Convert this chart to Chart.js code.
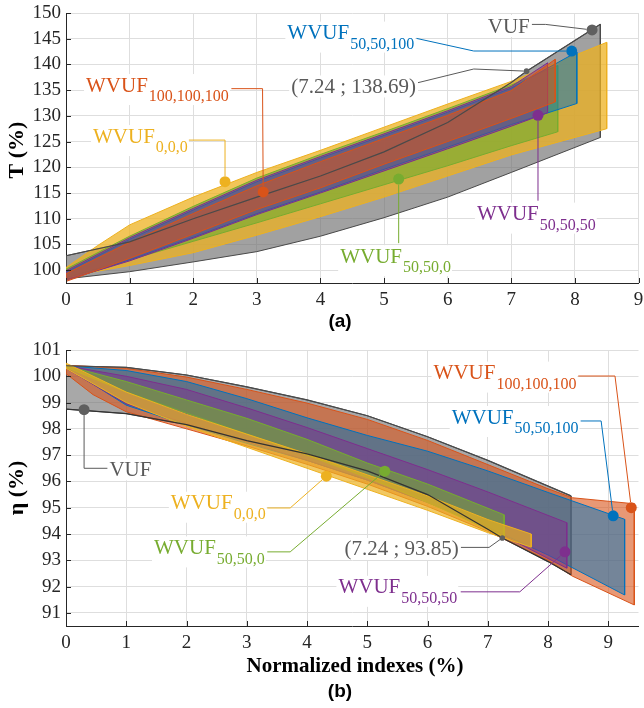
<!DOCTYPE html>
<html><head><meta charset="utf-8">
<script src="https://cdn.jsdelivr.net/npm/chart.js@4.4.1/dist/chart.umd.min.js"></script>
<style>
html,body{margin:0;padding:0;background:#fff;width:644px;height:708px;overflow:hidden}
canvas{position:absolute;left:0}
#ca{top:0}#cb{top:330px}
</style></head><body>
<canvas id="ca" width="644" height="340"></canvas>
<canvas id="cb" width="644" height="378"></canvas>
<script>
// ---------- Panel (a): T (%) vs normalized index ----------
const aXTicks = [0,1,2,3,4,5,6,7,8,9];
const aYTicks = [100,105,110,115,120,125,130,135,140,145,150];

const aVUF_hiX = [0,1,2,3,4,5,6,7,7.24,8.4];
const aVUF_hiY = [102.8,105.5,110.0,114.2,118.3,123.0,128.7,136.5,138.69,147.8];
const aVUF_loX = [0,1,2,3,4,5,6,7,8.4];
const aVUF_loY = [98.3,99.7,101.6,103.6,106.6,110.2,114.2,119.0,125.8];

const aY000_x  = [0,0.5,1,2,3,4,5,6,7,8.5];
const aY000_hi = [100.5,104.8,108.8,114.2,119.0,123.3,127.8,132.3,136.7,144.3];
const aY000_lo = [98.6,99.8,100.9,103.4,106.8,110.4,114.2,118.3,122.4,127.5];

const aG5050_x  = [0,1,2,3,4,5,6,7,7.73];
const aG5050_hi = [100.2,106.6,112.4,117.9,122.5,126.9,131.4,136.0,139.8];
const aG5050_lo = [98.5,102.0,105.6,109.2,112.9,116.6,120.3,124.2,126.9];

const aB100_x  = [0,1,2,3,4,5,6,7,8.03];
const aB100_hi = [99.6,106.0,111.7,117.2,121.8,126.2,130.7,135.4,142.4];
const aB100_lo = [98.0,102.0,106.4,111.0,115.2,119.6,123.9,128.3,132.4];

const aP050_x  = [0,1,2,3,4,5,6,7,7.57];
const aP050_hi = [99.9,106.3,112.0,117.5,122.1,126.5,131.0,135.7,140.3];
const aP050_lo = [98.1,101.8,106.2,110.8,115.0,119.3,123.6,128.0,130.6];

const aR100_x  = [0,1,2,3,4,5,6,7,7.69];
const aR100_hi = [99.3,105.4,111.0,116.4,121.1,125.6,130.1,134.9,141.0];
const aR100_lo = [97.8,102.3,107.0,111.8,116.0,120.6,125.0,129.5,132.7];

// markers: [x, y]
const aMarkVUF = [8.27,146.7];
const aMarkB100 = [7.95,142.6];
const aMarkR100 = [3.1,115.2];
const aMarkY000 = [2.5,117.2];
const aMarkG5050 = [5.23,117.7];
const aMarkP050 = [7.42,130.1];
const aPoint = [7.24,138.69];

// ---------- Panel (b): efficiency vs normalized index ----------
const bXTicks = [0,1,2,3,4,5,6,7,8,9];
const bYTicks = [91,92,93,94,95,96,97,98,99,100,101];

const bVUF_hiX = [0,1,2,3,4,5,6,7,8.38];
const bVUF_hiY = [100.4,100.34,100.05,99.6,99.1,98.5,97.7,96.8,95.45];
const bVUF_loX = [0,1,2,3,4,5,6,7,7.24,8,8.38];
const bVUF_loY = [98.75,98.58,98.16,97.55,97.05,96.4,95.5,94.18,93.85,92.95,92.45];

const bR100_hiX = [0,1,2,3,4,5,6,7,8,8.4,9.43];
const bR100_hiY = [100.42,100.3,99.97,99.5,98.98,98.36,97.56,96.64,95.72,95.38,95.15];
const bR100_loX = [0,0.45,1,2,3,4,5,6,7,8,8.4,9.43];
const bR100_loY = [100.1,99.3,98.65,98.0,97.35,96.65,95.9,95.05,94.1,93.0,92.4,91.3];

const bB100_x  = [0,1,2,3,4,5,6,7,8,9.27];
const bB100_hi = [100.4,100.22,99.8,99.15,98.42,97.75,97.15,96.4,95.58,94.56];
const bB100_lo = [100.35,98.9,98.15,97.45,96.8,96.05,95.2,94.25,93.2,91.68];

const bP050_x  = [0,1,2,3,4,5,6,7,8.31];
const bP050_hi = [100.4,100.0,99.5,98.8,98.05,97.25,96.45,95.6,94.43];
const bP050_lo = [100.3,98.95,98.2,97.5,96.8,96.05,95.2,94.25,92.7];

const bG5050_x  = [0,1,2,3,4,5,6,7.27];
const bG5050_hi = [100.4,99.8,99.1,98.4,97.6,96.7,95.9,94.73];
const bG5050_lo = [100.35,99.4,98.6,97.8,97.0,96.15,95.2,93.9];

const bY000_x  = [0,1,2,3,4,5,6,7,7.72];
const bY000_hi = [100.5,99.4,98.55,97.8,97.05,96.25,95.45,94.55,94.0];
const bY000_lo = [100.3,99.0,98.1,97.3,96.5,95.7,94.9,94.05,93.5];

const bMarkVUF = [0.3,98.73];
const bMarkR100 = [9.38,95.0];
const bMarkB100 = [9.08,94.69];
const bMarkY000 = [4.32,96.2];
const bMarkG5050 = [5.29,96.39];
const bMarkP050 = [8.28,93.32];
const bPoint = [7.24,93.85];

// ---------- styling ----------
const COL = {blue:'#0072BD', red:'#D95319', yellow:'#EDB120', purple:'#7E2F8E', green:'#77AC30', gray:'#5a5a5a'};
const GRID = '#dedede';
const AXIS = '#262626';
const TICKFONT = {family:'"Liberation Serif", "DejaVu Serif", serif', size:19};
function rgba(hex,a){const n=parseInt(hex.slice(1),16);return `rgba(${n>>16&255},${n>>8&255},${n&255},${a})`;}
function pts(xs,ys){return xs.map((v,i)=>({x:v,y:ys[i]}));}
function poly(xh,yh,xl,yl){const up=pts(xh,yh),lo=pts(xl,yl).reverse();return up.concat(lo,[up[0]]);}

function bandDS(xh,yh,xl,yl,color,alpha,order,border){
  return {data:poly(xh,yh,xl,yl),showLine:true,fill:'shape',pointRadius:0,borderWidth:1,
    borderColor:border||color,backgroundColor:rgba(color,alpha),order:order};
}
function lineDS(xs,ys,color,order,w){
  return {data:pts(xs,ys),showLine:true,fill:false,pointRadius:0,borderWidth:w||1.2,borderColor:color,order:order};
}
function markDS(p,color,order,r){
  return {data:[{x:p[0],y:p[1]}],showLine:false,pointRadius:r||5.5,pointBackgroundColor:color,pointBorderWidth:0,order:order};
}

const MAINF = '21px "Liberation Serif", serif';
const SUBF = '16px "Liberation Serif", serif';
const MR = 5.5;

function labelPlugin(labels){
  return {id:'labels',afterDatasetsDraw(chart){
    const {ctx,scales:{x,y}} = chart;
    ctx.save();
    ctx.strokeStyle = AXIS; ctx.lineWidth = 1;
    const ca = chart.chartArea;
    ctx.beginPath();
    x.ticks.forEach(t=>{const px=Math.round(x.getPixelForValue(t.value))+0.5;ctx.moveTo(px,ca.bottom);ctx.lineTo(px,ca.bottom-5);});
    y.ticks.forEach(t=>{const py=Math.round(y.getPixelForValue(t.value))+0.5;ctx.moveTo(ca.left,py);ctx.lineTo(ca.left+5,py);});
    ctx.stroke();
    for(const L of labels){
      const P = L.leader.map(p=>[x.getPixelForValue(p[0]),y.getPixelForValue(p[1])]);
      const mi = L.markEnd ? P.length-1 : 0;
      const other = L.markEnd ? P[P.length-2] : P[1];
      const m = P[mi]; const dx=other[0]-m[0], dy=other[1]-m[1], d=Math.hypot(dx,dy)||1;
      const r = L.r||MR;
      P[mi] = [m[0]+dx/d*r, m[1]+dy/d*r];
      ctx.strokeStyle = L.color; ctx.lineWidth = 1;
      ctx.beginPath();
      P.forEach((p,i)=>{i?ctx.lineTo(p[0],p[1]):ctx.moveTo(p[0],p[1]);});
      ctx.stroke();
    }
    for(const L of labels){
      const px=x.getPixelForValue(L.at[0]),py=y.getPixelForValue(L.at[1]);
      ctx.font=MAINF; const w=ctx.measureText(L.main).width;
      ctx.font=SUBF; const sw=L.sub?ctx.measureText(L.sub).width:0;
      ctx.fillStyle='#fff'; ctx.fillRect(px-2,py-11,w+sw+4,L.sub?31:22);
      ctx.fillStyle=L.color; ctx.textBaseline='middle'; ctx.textAlign='left';
      ctx.font=MAINF; ctx.fillText(L.main,px,py+1);
      if(L.sub){ctx.font=SUBF; ctx.fillText(L.sub,px+w+1,py+12);}
    }
    ctx.restore();
  }};
}
function titlePlugin(ytitle,ycy,xtitle,xty,panel,pty){
  return {id:'titles',afterDraw(chart){
    const ctx=chart.ctx; ctx.save();
    ctx.fillStyle='#000'; ctx.textAlign='center'; ctx.textBaseline='middle';
    ctx.font='bold 22px "Liberation Serif", serif';
    ctx.save(); ctx.translate(17,ycy); ctx.rotate(-Math.PI/2); ctx.fillText(ytitle,0,0); ctx.restore();
    ctx.font='bold 21px "Liberation Serif", serif';
    if(xtitle){ctx.fillText(xtitle,355,xty);}
    ctx.font='bold 19px "Liberation Sans", Arial, sans-serif';
    ctx.fillText(panel,340,pty);
    ctx.restore();
  }};
}
function scalesCfg(xmin,xmax,ymin,ymax,xt,yt){
  const common = {type:'linear',grid:{color:GRID,drawTicks:false,lineWidth:1},border:{color:AXIS,width:1},
    ticks:{font:TICKFONT,color:AXIS,autoSkip:false,maxRotation:0,padding:6}};
  return {
    x:{...common,min:xmin,max:xmax,afterBuildTicks:s=>{s.ticks=xt.map(v=>({value:v}));},
       afterFit:s=>{s.height=30;s.paddingLeft=0;s.paddingRight=0;}},
    y:{...common,min:ymin,max:ymax,afterBuildTicks:s=>{s.ticks=yt.map(v=>({value:v}));},
       afterFit:s=>{s.width=66;s.paddingTop=0;s.paddingBottom=0;},
       ticks:{...common.ticks,padding:5}}
  };
}

// ---------- chart (a) ----------
const aLabels = [
  {main:'VUF',sub:'',color:COL.gray,at:[6.63,147.47],leader:[[7.32,147.78],[7.54,147.78],aMarkVUF],markEnd:true},
  {main:'WVUF',sub:'50,50,100',color:COL.blue,at:[3.48,146.19],leader:[[5.51,145.06],[6.41,142.61],aMarkB100],markEnd:true},
  {main:'(7.24 ; 138.69)',sub:'',color:COL.gray,at:[3.54,135.72],leader:[[5.51,136.38],[6.41,139.11],aPoint],markEnd:true,r:2.8},
  {main:'WVUF',sub:'100,100,100',color:COL.red,at:[0.315,135.99],leader:[[2.6,135.29],[3.09,135.29],aMarkR100],markEnd:true},
  {main:'WVUF',sub:'0,0,0',color:COL.yellow,at:[0.425,126.07],leader:[[1.92,125.29],[2.5,125.29],aMarkY000],markEnd:true},
  {main:'WVUF',sub:'50,50,0',color:COL.green,at:[4.31,102.72],leader:[aMarkG5050,[5.23,105.25]],markEnd:false},
  {main:'WVUF',sub:'50,50,50',color:COL.purple,at:[6.46,110.99],leader:[aMarkP050,[7.42,113.5]],markEnd:false}
];
new Chart(document.getElementById('ca'),{
  type:'scatter',
  data:{datasets:[
    markDS(aMarkVUF,'#5f5f5f',0),markDS(aMarkB100,COL.blue,0),markDS(aMarkR100,COL.red,0),
    markDS(aMarkY000,COL.yellow,0),markDS(aMarkG5050,COL.green,0),markDS(aMarkP050,COL.purple,0),
    markDS(aPoint,'#5f5f5f',0,2.8),
    lineDS(aVUF_hiX,aVUF_hiY,'#4a4a4a',1,1.2),
    bandDS(aR100_x,aR100_hi,aR100_x,aR100_lo,COL.red,0.55,2),
    bandDS(aP050_x,aP050_hi,aP050_x,aP050_lo,COL.purple,0.5,3),
    bandDS(aB100_x,aB100_hi,aB100_x,aB100_lo,COL.blue,0.5,4),
    bandDS(aG5050_x,aG5050_hi,aG5050_x,aG5050_lo,COL.green,0.65,5),
    bandDS(aY000_x,aY000_hi,aY000_x,aY000_lo,COL.yellow,0.75,6),
    bandDS(aVUF_hiX,aVUF_hiY,aVUF_loX,aVUF_loY,'#6e6e6e',0.65,7,'#4a4a4a')
  ]},
  options:{responsive:false,animation:false,devicePixelRatio:1,
    layout:{padding:{left:0,right:4,top:13,bottom:27}},
    plugins:{legend:{display:false},tooltip:{enabled:false}},
    scales:scalesCfg(0,9,97.5,150,aXTicks,aYTicks)},
  plugins:[labelPlugin(aLabels),titlePlugin('T (%)',150,null,0,'(a)',322)]
});

// ---------- chart (b) ----------
const bLabels = [
  {main:'WVUF',sub:'100,100,100',color:COL.red,at:[6.1,100.14],leader:[[8.5,100.01],[9.11,100.01],bMarkR100],markEnd:true},
  {main:'WVUF',sub:'50,50,100',color:COL.blue,at:[6.4,98.45],leader:[[8.54,98.3],[8.88,98.3],bMarkB100],markEnd:true},
  {main:'VUF',sub:'',color:COL.gray,at:[0.72,96.46],leader:[bMarkVUF,[0.3,96.5],[0.71,96.5]],markEnd:false},
  {main:'WVUF',sub:'0,0,0',color:COL.yellow,at:[1.74,95.19],leader:[[3.34,94.99],[3.72,94.99],bMarkY000],markEnd:true},
  {main:'WVUF',sub:'50,50,0',color:COL.green,at:[1.46,93.49],leader:[[3.34,93.32],[3.72,93.32],bMarkG5050],markEnd:true},
  {main:'(7.24 ; 93.85)',sub:'',color:COL.gray,at:[4.62,93.43],leader:[[6.55,93.49],[7.02,93.49],bPoint],markEnd:true,r:2.8},
  {main:'WVUF',sub:'50,50,50',color:COL.purple,at:[4.52,91.99],leader:[[6.55,91.8],[7.53,91.8],bMarkP050],markEnd:true}
];
new Chart(document.getElementById('cb'),{
  type:'scatter',
  data:{datasets:[
    markDS(bMarkVUF,'#5f5f5f',0),markDS(bMarkR100,COL.red,0),markDS(bMarkB100,COL.blue,0),
    markDS(bMarkY000,COL.yellow,0),markDS(bMarkG5050,COL.green,0),markDS(bMarkP050,COL.purple,0),
    markDS(bPoint,'#5f5f5f',0,2.8),
    lineDS(bVUF_hiX,bVUF_hiY,'#4a4a4a',1,1.2),
    lineDS(bVUF_loX,bVUF_loY,'#333333',1,1.2),
    bandDS(bY000_x,bY000_hi,bY000_x,bY000_lo,COL.yellow,0.7,2),
    bandDS(bG5050_x,bG5050_hi,bG5050_x,bG5050_lo,COL.green,0.6,3),
    bandDS(bP050_x,bP050_hi,bP050_x,bP050_lo,COL.purple,0.5,4),
    bandDS(bB100_x,bB100_hi,bB100_x,bB100_lo,COL.blue,0.5,5),
    bandDS(bR100_hiX,bR100_hiY,bR100_loX,bR100_loY,COL.red,0.6,6),
    bandDS(bVUF_hiX,bVUF_hiY,bVUF_loX,bVUF_loY,'#6e6e6e',0.6,7,'#4a4a4a')
  ]},
  options:{responsive:false,animation:false,devicePixelRatio:1,
    layout:{padding:{left:0,right:-2,top:20,bottom:52}},
    plugins:{legend:{display:false},tooltip:{enabled:false}},
    scales:scalesCfg(0,9.5,90.5,101,bXTicks,bYTicks)},
  plugins:[labelPlugin(bLabels),titlePlugin('η (%)',158,'Normalized indexes (%)',337,'(b)',362)]
});
</script></body></html>
